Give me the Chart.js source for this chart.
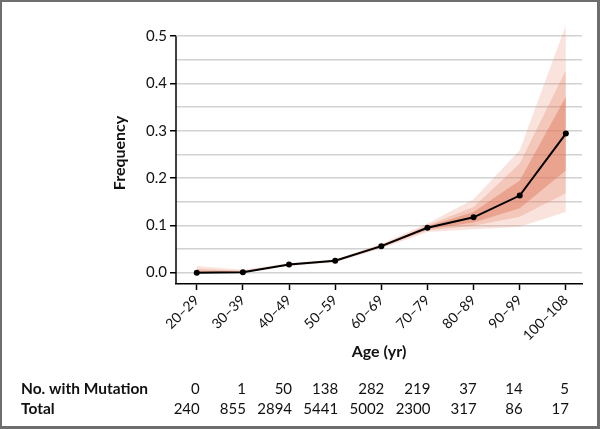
<!DOCTYPE html>
<html>
<head>
<meta charset="utf-8">
<script src="https://cdn.jsdelivr.net/npm/chart.js@4/dist/chart.umd.min.js"></script>
<style>
  html, body { margin: 0; padding: 0; background: #fff; }
  #wrap { width: 600px; height: 429px; position: relative; }
</style>
</head>
<body>
<div id="wrap"><canvas id="freqChart" width="600" height="429"></canvas></div>
<script>
// Age groups and observed frequency of the mutation
const ageGroups = ['20–29', '30–39', '40–49', '50–59', '60–69', '70–79', '80–89', '90–99', '100–108'];
const frequency = [0, 0.001, 0.017, 0.025, 0.056, 0.095, 0.117, 0.163, 0.294];

// Credible bands (outer = widest)
const outerLow  = [0, 0, 0.014, 0.022, 0.051, 0.086, 0.092, 0.097, 0.128];
const outerHigh = [0.014, 0.006, 0.020, 0.028, 0.061, 0.104, 0.155, 0.259, 0.523];
const midLow    = [0, 0, 0.015, 0.023, 0.053, 0.089, 0.099, 0.118, 0.168];
const midHigh   = [0.008, 0.004, 0.019, 0.027, 0.059, 0.100, 0.139, 0.231, 0.428];
const innerLow  = [0, 0, 0.016, 0.024, 0.054, 0.092, 0.106, 0.136, 0.216];
const innerHigh = [0.004, 0.002, 0.018, 0.026, 0.058, 0.098, 0.128, 0.195, 0.372];

// Table under the chart
const withMutation = [0, 1, 50, 138, 282, 219, 37, 14, 5];
const totals = [240, 855, 2894, 5441, 5002, 2300, 317, 86, 17];

const FONT = 'Lato, "DejaVu Sans", sans-serif';

function pts(arr) {
    return arr.map(function(v, i) { return { x: i, y: v }; });
}

function bandLine(arr, order) {
    return { data: pts(arr), borderWidth: 0, pointRadius: 0, fill: false, order: order };
}

function bandFill(arr, target, color, order) {
    return { data: pts(arr), borderWidth: 0, pointRadius: 0, fill: target, backgroundColor: color, order: order };
}

// y axis line only up to 0.5, frame around the figure, and the count table
const extrasPlugin = {
    id: 'extras',
    afterDraw: function(chart) {
        const ctx = chart.ctx;
        const x = chart.scales.x;
        const y = chart.scales.y;
        const area = chart.chartArea;
        ctx.save();
        ctx.strokeStyle = '#000';
        ctx.lineWidth = 1.5;
        ctx.beginPath();
        ctx.moveTo(area.left, y.getPixelForValue(0.5));
        ctx.lineTo(area.left, area.bottom);
        ctx.stroke();

        ctx.fillStyle = '#111';
        ctx.textBaseline = 'middle';
        ctx.textAlign = 'left';
        ctx.font = 'bold 15.5px ' + FONT;
        ctx.fillText('No. with Mutation', 21, 389);
        ctx.fillText('Total', 21, 409);
        ctx.font = '15px ' + FONT;
        ctx.textAlign = 'right';
        ageGroups.forEach(function(g, i) {
            const px = x.getPixelForValue(i) + 3;
            ctx.fillText(String(withMutation[i]), px, 389);
            ctx.fillText(String(totals[i]), px, 409);
        });

        ctx.strokeStyle = '#6e6e6e';
        ctx.lineWidth = 3;
        ctx.strokeRect(0.5, 0.5, 598, 427);
        ctx.restore();
    }
};

const ctx = document.getElementById('freqChart').getContext('2d');
new Chart(ctx, {
    type: 'line',
    data: {
        datasets: [
            bandLine(outerLow, 6),
            bandFill(outerHigh, 0, 'rgba(226,128,96,0.22)', 6),
            bandLine(midLow, 5),
            bandFill(midHigh, 2, 'rgba(226,128,96,0.28)', 5),
            bandLine(innerLow, 4),
            bandFill(innerHigh, 4, 'rgba(222,120,90,0.45)', 4),
            {
                data: pts(frequency),
                borderColor: '#000',
                borderWidth: 2,
                pointRadius: 3,
                pointBackgroundColor: '#000',
                pointBorderWidth: 0,
                fill: false,
                order: 0
            }
        ]
    },
    options: {
        responsive: false,
        animation: false,
        layout: { padding: { left: 106, right: 18, top: 22, bottom: 64 } },
        plugins: {
            legend: { display: false },
            tooltip: { enabled: false }
        },
        scales: {
            x: {
                type: 'linear',
                min: -0.45,
                max: 8.35,
                afterBuildTicks: function(scale) {
                    scale.ticks = ageGroups.map(function(g, i) { return { value: i }; });
                },
                afterFit: function(scale) { scale.height = 81; },
                grid: { drawOnChartArea: false, tickLength: 6, tickColor: '#000', tickWidth: 1.5 },
                border: { color: '#000', width: 1.5 },
                ticks: {
                    minRotation: 45,
                    maxRotation: 45,
                    padding: 2,
                    color: '#111',
                    font: { family: FONT, size: 14 },
                    callback: function(v) { return ageGroups[v]; }
                },
                title: {
                    display: true,
                    text: 'Age (yr)',
                    color: '#111',
                    padding: { top: 0, bottom: 4 },
                    font: { family: FONT, size: 16, weight: 'bold' }
                }
            },
            y: {
                min: -0.024,
                max: 0.53,
                afterBuildTicks: function(scale) {
                    const ticks = [];
                    for (let i = 0; i <= 10; i++) ticks.push({ value: i * 0.05 });
                    scale.ticks = ticks;
                },
                afterFit: function(scale) { scale.width = 70; },
                grid: {
                    color: '#d2d2d2',
                    lineWidth: 1.5,
                    tickLength: 6,
                    tickWidth: 1.5,
                    tickColor: function(c) {
                        return Math.round(c.tick.value * 100) % 10 === 0 ? '#000' : 'rgba(0,0,0,0)';
                    }
                },
                border: { display: false },
                ticks: {
                    padding: 3,
                    color: '#111',
                    font: { family: FONT, size: 15 },
                    callback: function(v) {
                        return Math.round(v * 100) % 10 === 0 ? v.toFixed(1) : '';
                    }
                },
                title: {
                    display: true,
                    text: 'Frequency',
                    color: '#111',
                    padding: { top: 4, bottom: 4 },
                    font: { family: FONT, size: 16, weight: 'bold' }
                }
            }
        }
    },
    plugins: [extrasPlugin]
});
</script>
</body>
</html>
